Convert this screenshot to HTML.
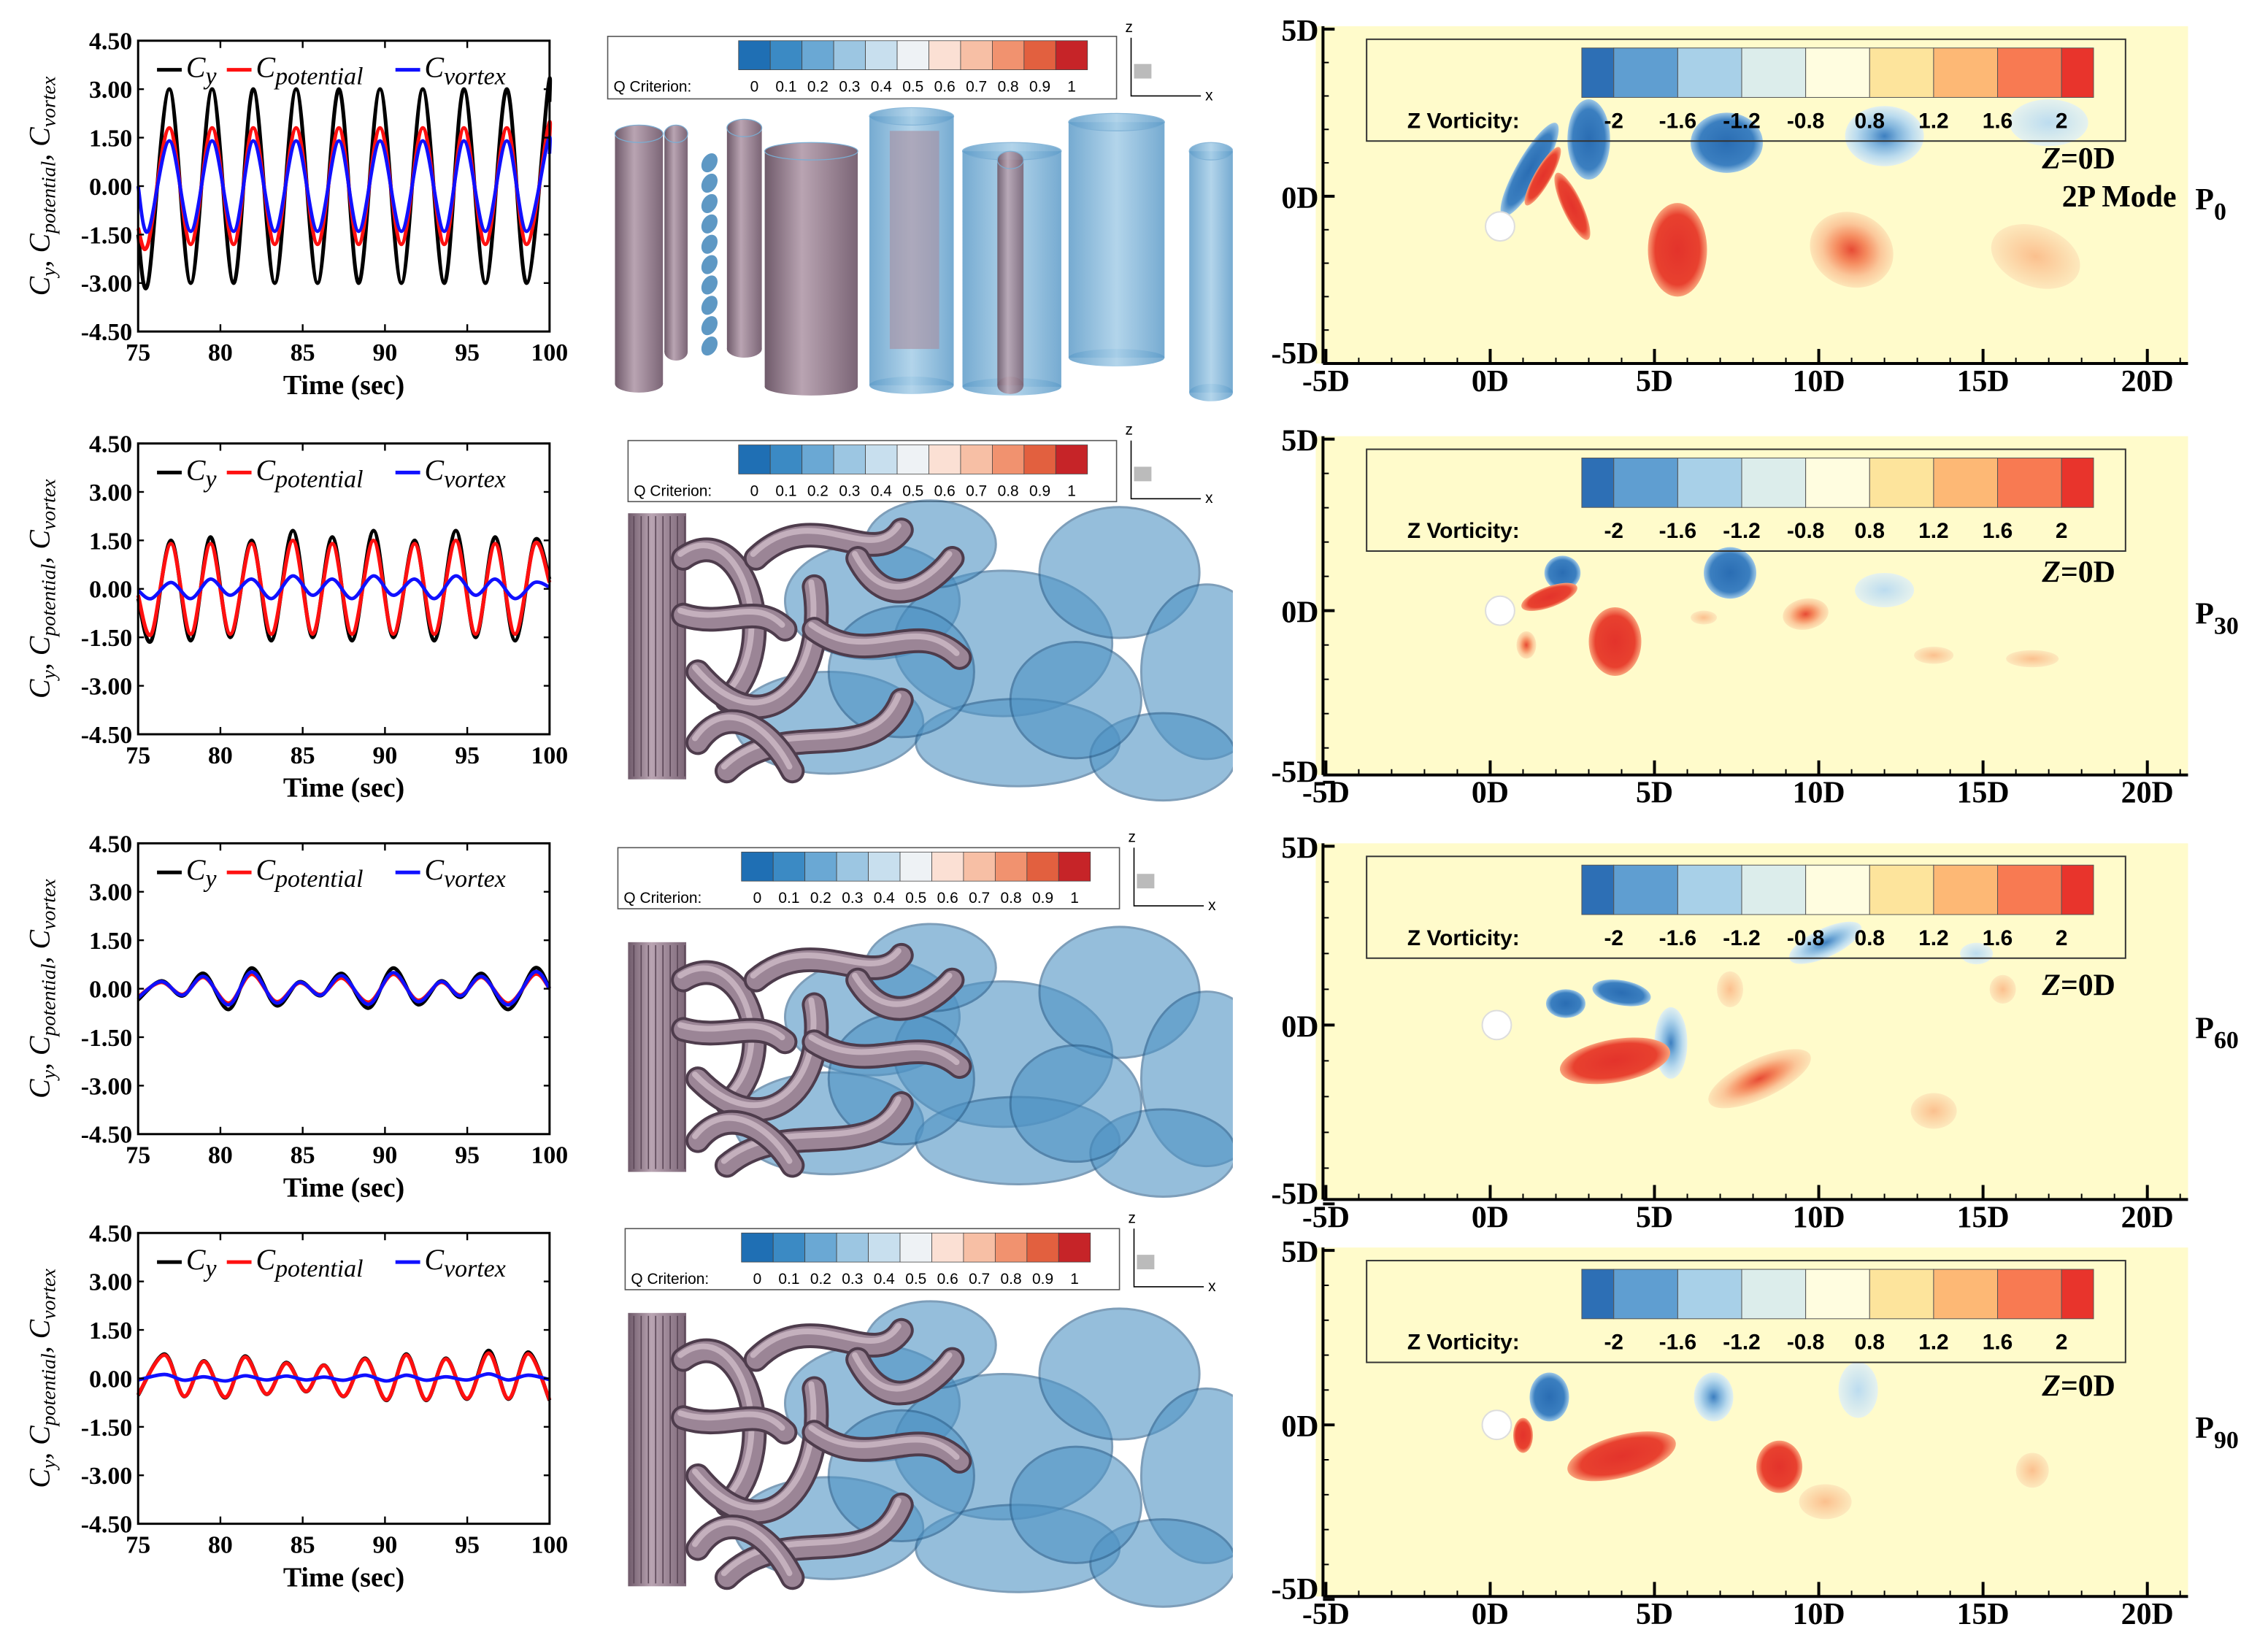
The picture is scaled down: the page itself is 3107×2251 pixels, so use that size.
<!DOCTYPE html>
<html><head><meta charset="utf-8"><style>
html,body{margin:0;padding:0;background:#fff}
svg{display:block}
.tk{font-family:"Liberation Serif",serif;font-weight:bold;font-size:17px;fill:#000}
.ax{font-family:"Liberation Serif",serif;font-weight:bold;font-size:19px;fill:#000}
.lg{font-family:"Liberation Serif",serif;font-style:italic;font-size:20px;fill:#000}
.cb{font-family:"Liberation Sans",sans-serif;font-size:10.5px;fill:#000}
.zv{font-family:"Liberation Sans",sans-serif;font-weight:bold;font-size:15px;fill:#000}
.dl{font-family:"Liberation Serif",serif;font-weight:bold;font-size:21px;fill:#000}
</style></head><body>
<svg id="fig" width="3107" height="2251" viewBox="0 0 1560 1130" preserveAspectRatio="none" xmlns="http://www.w3.org/2000/svg">
<defs>
<radialGradient id="gRed"><stop offset="0" stop-color="#e3332b"/><stop offset="0.75" stop-color="#e8412f"/><stop offset="1" stop-color="#f9a27a"/></radialGradient>
<radialGradient id="gBlue"><stop offset="0" stop-color="#2a6db3"/><stop offset="0.75" stop-color="#3b7fc0"/><stop offset="1" stop-color="#9ec8e6"/></radialGradient>
<radialGradient id="gRedL"><stop offset="0" stop-color="#e74b34"/><stop offset="0.35" stop-color="#f58a5e"/><stop offset="0.7" stop-color="#fbc79a"/><stop offset="1" stop-color="#fde6b8"/></radialGradient>
<radialGradient id="gBlueL"><stop offset="0" stop-color="#3d7fc0"/><stop offset="0.35" stop-color="#7fb3dc"/><stop offset="0.7" stop-color="#b9daee"/><stop offset="1" stop-color="#e2f0ef"/></radialGradient>
<radialGradient id="gRedF"><stop offset="0" stop-color="#fbc08e"/><stop offset="1" stop-color="#fde9bd"/></radialGradient>
<radialGradient id="gBlueF"><stop offset="0" stop-color="#bcdcef"/><stop offset="1" stop-color="#e6f2ee"/></radialGradient>
<linearGradient id="gCyl" x1="0" x2="1"><stop offset="0" stop-color="#6f5a6a"/><stop offset="0.4" stop-color="#b9a4b2"/><stop offset="1" stop-color="#7b6576"/></linearGradient>
<linearGradient id="gBcyl" x1="0" x2="1"><stop offset="0" stop-color="#5e9cc9"/><stop offset="0.5" stop-color="#a5cde7"/><stop offset="1" stop-color="#5e9cc9"/></linearGradient>
<clipPath id="midClip"><rect x="420" y="0" width="428" height="1130"/></clipPath>
</defs>
<g id="root"></g>
</svg>
<script>
// ===== Chart data (time-series of lift coefficients) =====
const xTicks = [75, 80, 85, 90, 95, 100];
const yTicks = [4.5, 3.0, 1.5, 0.0, -1.5, -3.0, -4.5];
const yTickLabels = ["4.50", "3.00", "1.50", "0.00", "-1.50", "-3.00", "-4.50"];
// Panel P0
const p0Times = [75, 75.6, 76.9, 78.2, 79.5, 80.8, 82.0, 83.3, 84.6, 85.9, 87.2, 88.4, 89.7, 91.0, 92.3, 93.6, 94.8, 96.1, 97.4, 98.6, 99.9, 100];
const p0Cy = [-1.5, -3, 3, -3, 3, -3, 3, -3, 3, -3, 3, -3, 3, -3, 3, -3, 3, -3, 3, -3, 3, 2.6];
const p0Cp = [-1.3, -1.8, 1.8, -1.8, 1.8, -1.8, 1.8, -1.8, 1.8, -1.8, 1.8, -1.8, 1.8, -1.8, 1.8, -1.8, 1.8, -1.8, 1.8, -1.8, 1.8, 1.5];
const p0Cv = [0.0, -1.4, 1.4, -1.4, 1.4, -1.4, 1.4, -1.4, 1.4, -1.4, 1.4, -1.4, 1.4, -1.4, 1.4, -1.4, 1.4, -1.4, 1.4, -1.4, 1.4, 1.0];
// Panel P30
const p30Times = [75, 75.8, 77.0, 78.2, 79.4, 80.6, 81.9, 83.1, 84.4, 85.6, 86.8, 88.0, 89.3, 90.5, 91.8, 93.0, 94.3, 95.5, 96.7, 97.9, 99.1, 100];
const p30Cy = [-0.3, -1.6, 1.5, -1.6, 1.6, -1.5, 1.5, -1.6, 1.8, -1.5, 1.6, -1.6, 1.8, -1.5, 1.5, -1.6, 1.8, -1.5, 1.6, -1.6, 1.5, 0.3];
const p30Cp = [-0.2, -1.4, 1.4, -1.4, 1.4, -1.4, 1.4, -1.4, 1.5, -1.4, 1.4, -1.4, 1.5, -1.4, 1.4, -1.4, 1.5, -1.4, 1.4, -1.4, 1.4, 0.2];
const p30Cv = [-0.05, -0.3, 0.2, -0.3, 0.3, -0.2, 0.3, -0.3, 0.4, -0.2, 0.3, -0.3, 0.4, -0.2, 0.3, -0.3, 0.4, -0.2, 0.3, -0.3, 0.2, 0.05];
// Panel P60
const p60Times = [75, 76.4, 77.7, 79.0, 80.5, 81.9, 83.4, 84.8, 86.1, 87.4, 89.0, 90.5, 92.0, 93.4, 94.6, 95.9, 97.5, 99.1, 100];
const p60Cy = [-0.34, 0.24, -0.22, 0.47, -0.64, 0.64, -0.52, 0.21, -0.21, 0.47, -0.6, 0.64, -0.49, 0.24, -0.26, 0.47, -0.64, 0.64, 0.0];
const p60Cp = [-0.25, 0.2, -0.18, 0.35, -0.45, 0.45, -0.4, 0.18, -0.18, 0.33, -0.42, 0.45, -0.36, 0.2, -0.2, 0.35, -0.45, 0.45, 0.0];
const p60Cv = [-0.28, 0.22, -0.2, 0.38, -0.5, 0.52, -0.44, 0.2, -0.2, 0.4, -0.48, 0.5, -0.4, 0.22, -0.22, 0.38, -0.5, 0.52, 0.0];
// Panel P90
const p90Times = [75, 76.6, 77.8, 79.0, 80.3, 81.5, 82.8, 84.0, 85.2, 86.3, 87.5, 88.8, 90.1, 91.3, 92.5, 93.7, 95.0, 96.3, 97.5, 98.7, 100];
const p90Cy = [-0.52, 0.75, -0.56, 0.54, -0.6, 0.69, -0.49, 0.49, -0.41, 0.41, -0.56, 0.62, -0.68, 0.75, -0.68, 0.62, -0.64, 0.86, -0.64, 0.81, -0.68];
const p90Cp = [-0.5, 0.72, -0.55, 0.52, -0.58, 0.66, -0.48, 0.47, -0.4, 0.4, -0.55, 0.6, -0.66, 0.72, -0.66, 0.6, -0.62, 0.78, -0.62, 0.76, -0.66];
const p90Cv = [-0.05, 0.12, -0.06, 0.05, -0.08, 0.08, -0.05, 0.07, -0.05, 0.04, -0.06, 0.1, -0.08, 0.1, -0.06, 0.05, -0.05, 0.14, -0.05, 0.1, -0.04];

const NS = "http://www.w3.org/2000/svg";
const root = document.getElementById('root');
function mk(tag, attrs, parent) {
  const e = document.createElementNS(NS, tag);
  for (const k in attrs) e.setAttribute(k, attrs[k]);
  (parent || root).appendChild(e);
  return e;
}
function txt(parent, x, y, s, cls, anchor) {
  const t = mk('text', {x: x, y: y, class: cls, 'text-anchor': anchor || 'start'}, parent);
  t.textContent = s;
  return t;
}
function smoothPath(pts) {
  let d = 'M' + pts[0][0].toFixed(1) + ',' + pts[0][1].toFixed(1);
  for (let i = 0; i < pts.length - 1; i++) {
    const p0 = pts[Math.max(0, i - 1)], p1 = pts[i], p2 = pts[i + 1], p3 = pts[Math.min(pts.length - 1, i + 2)];
    const c1x = p1[0] + (p2[0] - p0[0]) / 6, c1y = p1[1] + (p2[1] - p0[1]) / 6;
    const c2x = p2[0] - (p3[0] - p1[0]) / 6, c2y = p2[1] - (p3[1] - p1[1]) / 6;
    d += ' C' + c1x.toFixed(1) + ',' + c1y.toFixed(1) + ' ' + c2x.toFixed(1) + ',' + c2y.toFixed(1) + ' ' + p2[0].toFixed(1) + ',' + p2[1].toFixed(1);
  }
  return d;
}

// ===== Line charts =====
const panelTops = [28, 305, 580, 848];
const panels = [
  {times: p0Times, cy: p0Cy, cp: p0Cp, cv: p0Cv},
  {times: p30Times, cy: p30Cy, cp: p30Cp, cv: p30Cv},
  {times: p60Times, cy: p60Cy, cp: p60Cp, cv: p60Cv},
  {times: p90Times, cy: p90Cy, cp: p90Cp, cv: p90Cv}
];
const X0 = 95, X1 = 378, PH = 200;
panels.forEach(function (p, idx) {
  const top = panelTops[idx], bot = top + PH;
  const xs = function (t) { return X0 + (t - 75) / 25 * (X1 - X0); };
  const ys = function (v) { return top + (4.5 - v) / 9 * PH; };
  const g = mk('g', {});
  
  
  const series = [['cy', '#000', 2.6], ['cp', '#ff1010', 2.6], ['cv', '#1010ff', 2.4]];
  series.forEach(function (s) {
    const pts = p.times.map(function (t, i) { return [xs(t), ys(p[s[0]][i])]; });
    const path = mk('path', {d: smoothPath(pts), fill: 'none', stroke: s[1], 'stroke-width': s[2], 'stroke-linejoin': 'round'}, g);
    
    
  });
  const fr = mk('rect', {x: X0, y: top, width: X1 - X0, height: PH, fill: 'none', stroke: '#000', 'stroke-width': 1.5}, g);
  
  
  yTicks.forEach(function (v, i) {
    const y = ys(v);
    mk('line', {x1: X0, x2: X0 + 4, y1: y, y2: y, stroke: '#000', 'stroke-width': 1.2}, g);
    mk('line', {x1: X1, x2: X1 - 4, y1: y, y2: y, stroke: '#000', 'stroke-width': 1.2}, g);
    const t = txt(g, X0 - 4, y + 6, yTickLabels[i], 'tk', 'end');
    
    
  });
  xTicks.forEach(function (v) {
    const x = xs(v);
    mk('line', {x1: x, x2: x, y1: bot, y2: bot - 5, stroke: '#000', 'stroke-width': 1.2}, g);
    mk('line', {x1: x, x2: x, y1: top, y2: top + 5, stroke: '#000', 'stroke-width': 1.2}, g);
    const t = txt(g, x, bot + 20, String(v), 'tk', 'middle');
    
    
  });
  const xt = txt(g, (X0 + X1) / 2, bot + 43, 'Time (sec)', 'ax', 'middle');
  
  
  const yt = mk('text', {transform: 'translate(34,' + (top + PH / 2) + ') rotate(-90)', class: 'lg', 'text-anchor': 'middle', 'font-size': '19'}, g);
  
  
  yt.innerHTML = 'C<tspan dy="4" font-size="14">y</tspan><tspan dy="-4">, C</tspan><tspan dy="4" font-size="14">potential</tspan><tspan dy="-4">, C</tspan><tspan dy="4" font-size="14">vortex</tspan>';
  const lg = mk('g', {}, g);
  
  
  const ly = top + 20;
  [[108, '#000', 'y'], [156, '#ff1010', 'potential'], [272, '#1010ff', 'vortex']].forEach(function (e) {
    mk('line', {x1: e[0], x2: e[0] + 17, y1: ly, y2: ly, stroke: e[1], 'stroke-width': 2.5}, lg);
    const t = mk('text', {x: e[0] + 20, y: ly + 5, class: 'lg'}, lg);
    
    
    t.innerHTML = 'C<tspan dy="5" font-size="17">' + e[2] + '</tspan>';
  });
});

// ===== Middle: Q-criterion iso-surfaces =====
const qColors = ['#1f6fb4', '#3b8ac4', '#6aa8d4', '#9cc6e2', '#c8dfee', '#eef2f5', '#fbe0d4', '#f7bfa5', '#f1926f', '#e2603f', '#c62428'];
const qLabels = ['0', '0.1', '0.2', '0.3', '0.4', '0.5', '0.6', '0.7', '0.8', '0.9', '1'];
const qBoxes = [[418, 25, 350, 43], [432, 303, 336, 42], [425, 583, 345, 42], [430, 845, 340, 42]];
qBoxes.forEach(function (b, i) {
  const g = mk('g', {});
  
  
  mk('rect', {x: b[0], y: b[1], width: b[2], height: b[3], fill: '#fff', stroke: '#555', 'stroke-width': 0.8}, g);
  const sx = b[0] + b[2] - 260, sw = 240 / 11;
  qColors.forEach(function (c, k) {
    mk('rect', {x: sx + k * sw, y: b[1] + 3, width: sw, height: 20, fill: c, stroke: '#444', 'stroke-width': 0.4}, g);
    txt(g, sx + k * sw + sw / 2, b[1] + 38, qLabels[k], 'cb', 'middle');
  });
  txt(g, b[0] + 4, b[1] + 38, 'Q Criterion:', 'cb', 'start');
  const ax = b[0] + b[2] + 10, ay = b[1] + b[3] - 2;
  mk('path', {d: 'M' + ax + ',' + (ay - 40) + ' V' + ay + ' H' + (ax + 48), fill: 'none', stroke: '#000', 'stroke-width': 0.8}, g);
  txt(g, ax - 4, ay - 44, 'z', 'cb');
  txt(g, ax + 51, ay + 3, 'x', 'cb');
  mk('rect', {x: ax + 2, y: ay - 22, width: 12, height: 10, fill: '#bbb'}, g);
});
function cyl(g, x, y, w, h, fill, op) {
  mk('rect', {x: x, y: y, width: w, height: h, fill: fill, opacity: op}, g);
  mk('ellipse', {cx: x + w / 2, cy: y, rx: w / 2, ry: 6, fill: fill, opacity: op, stroke: '#7aaed4', 'stroke-width': 0.6}, g);
  mk('ellipse', {cx: x + w / 2, cy: y + h, rx: w / 2, ry: 6, fill: fill, opacity: op}, g);
}
(function () {
  const g = mk('g', {'clip-path': 'url(#midClip)'});
  
  
  cyl(g, 423, 92, 33, 172, 'url(#gCyl)', 1);
  cyl(g, 457, 92, 16, 150, 'url(#gCyl)', 1);
  for (let k = 0; k < 10; k++) mk('ellipse', {cx: 488, cy: 112 + k * 14, rx: 5, ry: 7, fill: '#5e98c4', transform: 'rotate(30 488 ' + (112 + k * 14) + ')'}, g);
  cyl(g, 500, 88, 24, 152, 'url(#gCyl)', 1);
  cyl(g, 526, 104, 64, 162, 'url(#gCyl)', 1);
  cyl(g, 598, 80, 58, 185, 'url(#gBcyl)', 0.85);
  mk('rect', {x: 612, y: 90, width: 34, height: 150, fill: '#a88c9c', opacity: 0.6}, g);
  cyl(g, 662, 104, 68, 162, 'url(#gBcyl)', 0.85);
  cyl(g, 686, 110, 18, 155, 'url(#gCyl)', 0.9);
  cyl(g, 735, 84, 66, 162, 'url(#gBcyl)', 0.85);
  cyl(g, 818, 104, 30, 166, 'url(#gBcyl)', 0.85);
})();
const blobRows = [[345, 540], [640, 810], [895, 1095]];
blobRows.forEach(function (r, i) {
  const g = mk('g', {'clip-path': 'url(#midClip)'});
  
  
  const y0 = r[0], h = r[1] - r[0];
  const blues = [[600, .35, 60, 40], [690, .5, 75, 50], [770, .25, 55, 45], [830, .6, 45, 60], [570, .78, 65, 35], [700, .85, 70, 30], [640, .15, 45, 30], [800, .9, 50, 30], [620, .6, 50, 45], [740, .7, 45, 40]];
  blues.forEach(function (b) {
    mk('ellipse', {cx: b[0], cy: y0 + b[1] * h, rx: b[2], ry: b[3], fill: '#4f93c4', opacity: 0.6, stroke: '#2a5f8c', 'stroke-width': 1.5}, g);
  });
  mk('rect', {x: 432, y: y0 + 8, width: 40, height: h - 12, fill: 'url(#gCyl)'}, g);
  for (let k = 0; k < 8; k++) mk('line', {x1: 436 + k * 5, x2: 436 + k * 5, y1: y0 + 10, y2: y0 + h - 6, stroke: '#5a4656', 'stroke-width': 0.8}, g);
  const tubes = ['M470,' + (y0 + .2 * h) + ' C510,' + (y0 + .05 * h) + ' 540,' + (y0 + .5 * h) + ' 500,' + (y0 + .7 * h),
    'M480,' + (y0 + .6 * h) + ' C530,' + (y0 + .9 * h) + ' 570,' + (y0 + .6 * h) + ' 560,' + (y0 + .3 * h),
    'M520,' + (y0 + .2 * h) + ' C560,' + (y0 + .0 * h) + ' 600,' + (y0 + .25 * h) + ' 620,' + (y0 + .1 * h),
    'M500,' + (y0 + .95 * h) + ' C540,' + (y0 + .75 * h) + ' 600,' + (y0 + .95 * h) + ' 620,' + (y0 + .7 * h),
    'M560,' + (y0 + .45 * h) + ' C600,' + (y0 + .6 * h) + ' 630,' + (y0 + .4 * h) + ' 660,' + (y0 + .55 * h),
    'M470,' + (y0 + .4 * h) + ' C500,' + (y0 + .45 * h) + ' 520,' + (y0 + .35 * h) + ' 540,' + (y0 + .45 * h),
    'M480,' + (y0 + .85 * h) + ' C500,' + (y0 + .7 * h) + ' 530,' + (y0 + .8 * h) + ' 545,' + (y0 + .95 * h),
    'M590,' + (y0 + .2 * h) + ' C610,' + (y0 + .4 * h) + ' 640,' + (y0 + .3 * h) + ' 655,' + (y0 + .2 * h)];
  tubes.forEach(function (d) {
    mk('path', {d: d, fill: 'none', stroke: '#4e3c4c', 'stroke-width': 17, 'stroke-linecap': 'round'}, g);
    mk('path', {d: d, fill: 'none', stroke: '#9b8596', 'stroke-width': 13, 'stroke-linecap': 'round'}, g);
    mk('path', {d: d, fill: 'none', stroke: '#c4b0bd', 'stroke-width': 4, 'stroke-linecap': 'round', transform: 'translate(-2,-3)'}, g);
  });
});

// ===== Right: vorticity contours =====
const vColors = ['#2d6fb5', '#5f9ed1', '#a8d0e8', '#dcedeb', '#fffde0', '#fde49c', '#fdb875', '#f87a52', '#e8342c'];
const vLabels = ['-2', '-1.6', '-1.2', '-0.8', '0.8', '1.2', '1.6', '2'];
const dTicks = [-5, 0, 5, 10, 15, 20];
const dTickLabels = ['-5D', '0D', '5D', '10D', '15D', '20D'];
const vPanels = [[18, 135, 250], [300, 420, 533], [580, 705, 825], [858, 980, 1098]];
const vTitles = [['Z=0D', '2P Mode', '0'], ['Z=0D', '', '30'], ['Z=0D', '', '60'], ['Z=0D', '', '90']];
// vortex blobs: [xD, yD, rxD, ryD, sign, strength, rotation]
const vort0 = [[3, 1.7, .65, 1.2, -1, 2, 0], [7.2, 1.6, 1.1, .9, -1, 2, 0], [12, 1.8, 1.2, .9, -1, 1, 0], [17, 2.2, 1.2, .7, -1, 0, 0], [5.7, -1.6, .9, 1.4, 1, 2, 0], [11, -1.6, 1.3, 1.1, 1, 1, 25], [16.6, -1.8, 1.4, .9, 1, 0, 20], [2.5, -.3, .3, 1.1, 1, 2, -25], [1.2, 0.8, .4, 1.6, -1, 2, 30], [1.6, 0.6, .25, 1.0, 1, 2, 30]];
const vort1 = [[2.2, 1.1, .55, .5, -1, 2, 0], [7.3, 1.1, .8, .75, -1, 2, 0], [12, 0.6, .9, .5, -1, 0, 0], [3.8, -.9, .8, 1, 1, 2, 0], [1.8, 0.4, .9, .3, 1, 2, -20], [9.6, -0.1, .7, .45, 1, 1, -10], [1.1, -1, .3, .4, 1, 1, 0], [13.5, -1.3, .6, .25, 1, 0, 0], [16.5, -1.4, .8, .25, 1, 0, 0], [6.5, -.2, .4, .2, 1, 0, 0]];
const vort2 = [[2.3, 0.6, .6, .4, -1, 2, 0], [4.0, 0.9, .9, .35, -1, 2, 10], [5.5, -0.5, .5, 1.0, -1, 1, 0], [10.2, 2.3, 1.2, .4, -1, 1, -25], [14.8, 2.0, .5, .3, -1, 0, 0], [3.8, -1.0, 1.7, .6, 1, 2, -10], [8.2, -1.5, 1.7, .55, 1, 1, -25], [13.5, -2.4, .7, .5, 1, 0, 0], [7.3, 1.0, .4, .5, 1, 0, 0], [15.6, 1.0, .4, .4, 1, 0, 0]];
const vort3 = [[1.8, 0.8, .6, .7, -1, 2, 0], [6.8, 0.8, .6, .7, -1, 1, 0], [11.2, 1.0, .6, .8, -1, 0, 0], [4.0, -0.9, 1.7, .6, 1, 2, -15], [8.8, -1.2, .7, .75, 1, 2, 0], [10.2, -2.2, .8, .5, 1, 0, 0], [16.5, -1.3, .5, .5, 1, 0, 0], [1.0, -0.3, .3, .5, 1, 2, 0]];
const vortSets = [vort0, vort1, vort2, vort3];
const cylPos = [[0.3, -0.9], [0.3, 0], [0.2, 0], [0.2, 0]];
vPanels.forEach(function (vp, i) {
  const top = vp[0], mid = vp[1], bot = vp[2];
  const L = 905, R = 1505;
  const xD = function (d) { return 1025 + d * 22.6; };
  const ppd = (mid - top - 2) / 5;
  const yD = function (d) { return mid - d * ppd; };
  const g = mk('g', {});
  
  
  mk('rect', {x: L, y: top, width: R - L, height: bot - top, fill: '#fffbcb'}, g);
  vortSets[i].forEach(function (v) {
    const fill = v[4] > 0 ? ['url(#gRedF)', 'url(#gRedL)', 'url(#gRed)'][v[5]] : ['url(#gBlueF)', 'url(#gBlueL)', 'url(#gBlue)'][v[5]];
    const cx = xD(v[0]), cy = yD(v[1]);
    const e = mk('ellipse', {cx: cx, cy: cy, rx: v[2] * 22.6, ry: v[3] * ppd, fill: fill, transform: 'rotate(' + v[6] + ' ' + cx + ' ' + cy + ')'}, g);
    
    
  });
  const c = mk('circle', {cx: xD(cylPos[i][0]), cy: yD(cylPos[i][1]), r: 10, fill: '#fff', stroke: '#ddd'}, g);
  
  
  mk('line', {x1: 910, x2: 910, y1: top, y2: bot, stroke: '#000', 'stroke-width': 2}, g);
  mk('line', {x1: 910, x2: R, y1: bot, y2: bot, stroke: '#000', 'stroke-width': 2}, g);
  [5, 0, -5].forEach(function (d, k) {
    mk('line', {x1: 910, x2: 918, y1: yD(d), y2: yD(d), stroke: '#000', 'stroke-width': 2}, g);
    const t = txt(g, 907, yD(d) + (k === 2 ? 0 : 8), ['5D', '0D', '-5D'][k], 'dl', 'end');
    
    
  });
  for (let d = -4; d <= 4; d++) mk('line', {x1: 910, x2: 914, y1: yD(d), y2: yD(d), stroke: '#000', 'stroke-width': 1}, g);
  for (let d = -5; d <= 21; d++) mk('line', {x1: xD(d), x2: xD(d), y1: bot, y2: bot - (d % 5 === 0 ? 10 : 4), stroke: '#000', 'stroke-width': d % 5 === 0 ? 2 : 1}, g);
  dTicks.forEach(function (d, k) {
    const t = txt(g, xD(d), bot + 19, dTickLabels[k], 'dl', 'middle');
    
    
  });
  const lg = mk('g', {}, g);
  
  
  const by = top + 9;
  mk('rect', {x: 940, y: by, width: 522, height: 70, fill: 'none', stroke: '#333', 'stroke-width': 1}, lg);
  const widths = [22, 44, 44, 44, 44, 44, 44, 44, 22];
  let x = 1088;
  vColors.forEach(function (cc, k) {
    mk('rect', {x: x, y: by + 6, width: widths[k], height: 34, fill: cc, stroke: '#555', 'stroke-width': 0.5}, lg);
    x += widths[k];
  });
  txt(lg, 968, by + 61, 'Z Vorticity:', 'zv');
  vLabels.forEach(function (s, k) { txt(lg, 1110 + k * 44, by + 61, s, 'zv', 'middle'); });
  const z = mk('text', {x: 1455, y: yD(1.0) + 4, class: 'dl', 'text-anchor': 'end'}, g);
  z.innerHTML = '<tspan font-style="italic">Z</tspan><tspan>=0D</tspan>';
  if (vTitles[i][1]) txt(g, 1497, yD(0) + 7, vTitles[i][1], 'dl', 'end');
  const pl = mk('text', {x: 1510, y: mid + 9, class: 'dl', 'font-size': '28'});
  
  
  pl.innerHTML = 'P<tspan dy="7" font-size="17">' + vTitles[i][2] + '</tspan>';
});
</script>
</body></html>
